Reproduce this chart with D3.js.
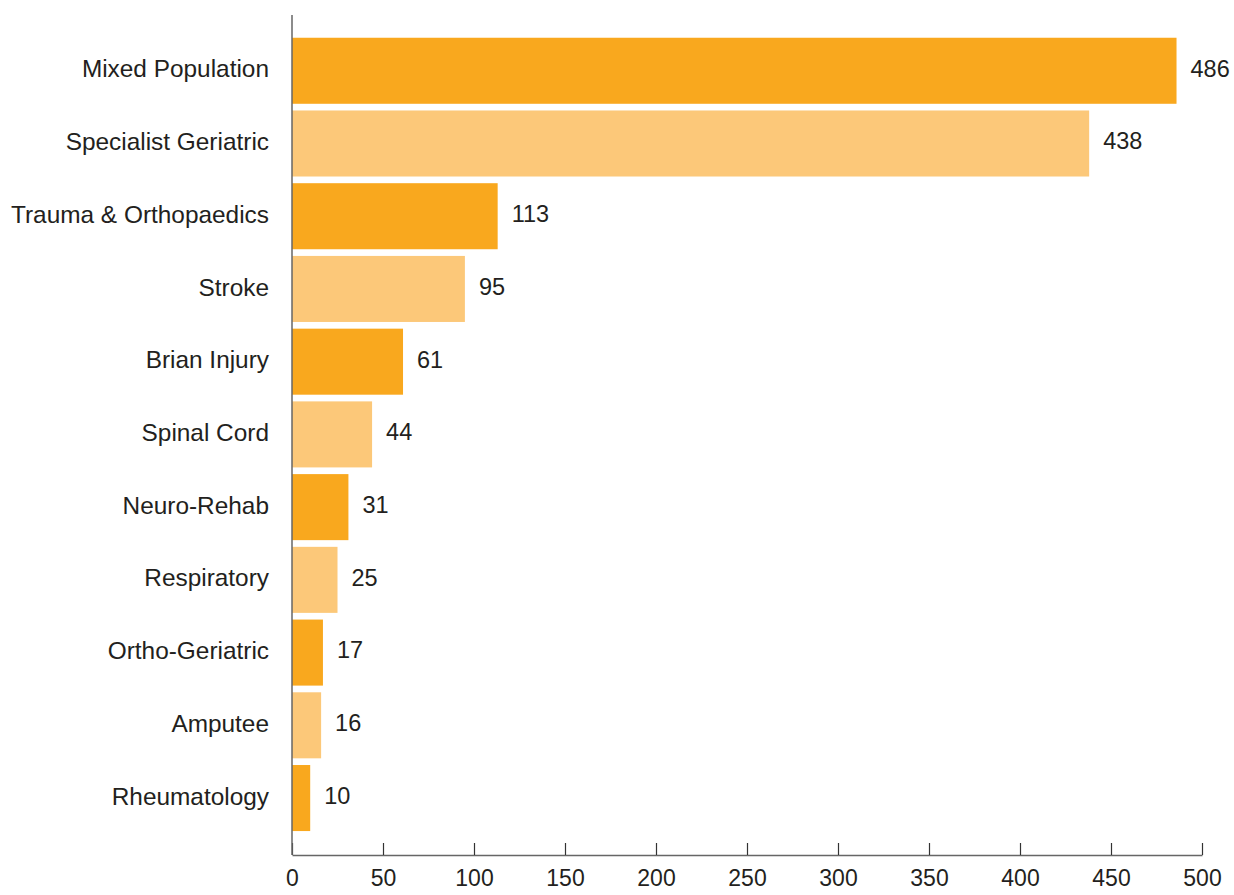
<!DOCTYPE html>
<html>
<head>
<meta charset="utf-8">
<script src="https://cdn.jsdelivr.net/npm/d3@7"></script>
<style>
  body { margin: 0; background: #fff; }
  svg { display: block; font-family: "Liberation Sans", Arial, sans-serif; }
  .lbl { fill: #231f20; }
</style>
</head>
<body>
<svg id="chart"></svg>
<script>
// data
var categories = ["Mixed Population", "Specialist Geriatric", "Trauma & Orthopaedics", "Stroke",
    "Brian Injury", "Spinal Cord", "Neuro-Rehab", "Respiratory", "Ortho-Geriatric", "Amputee", "Rheumatology"];
var counts = [486, 438, 113, 95, 61, 44, 31, 25, 17, 16, 10];
var xTicks = [0, 50, 100, 150, 200, 250, 300, 350, 400, 450, 500];

var width = 1234, height = 895;
var x0 = 292, x1 = 1202, axisY = 855, axisTop = 15;

var svg = d3.select('#chart')
    .attr('width', width)
    .attr('height', height);

var xScale = d3.scaleLinear()
    .domain([0, 500])
    .range([x0, x1]);

var yScale = d3.scaleBand()
    .domain(categories)
    .range([34.4, 834.4])
    .paddingInner(0.092)
    .paddingOuter(0.046);

var dark = '#f9a81e', light = '#fcc879';

// bars
svg.selectAll('rect.bar')
    .data(categories)
    .enter()
    .append('rect')
    .attr('class', 'bar')
    .attr('x', xScale(0))
    .attr('y', function(d) { return yScale(d); })
    .attr('width', function(d, i) { return xScale(counts[i]) - xScale(0); })
    .attr('height', yScale.bandwidth())
    .attr('fill', function(d, i) { return i % 2 === 0 ? dark : light; });

// value labels
svg.selectAll('text.val')
    .data(categories)
    .enter()
    .append('text')
    .attr('class', 'lbl')
    .attr('x', function(d, i) { return xScale(counts[i]) + 14; })
    .attr('y', function(d) { return yScale(d) + yScale.bandwidth() / 2; })
    .attr('dy', '0.25em')
    .style('font-size', '23.5px')
    .text(function(d, i) { return counts[i]; });

// category labels
svg.selectAll('text.cat')
    .data(categories)
    .enter()
    .append('text')
    .attr('class', 'lbl')
    .attr('x', 269)
    .attr('y', function(d) { return yScale(d) + yScale.bandwidth() / 2; })
    .attr('dy', '0.27em')
    .attr('text-anchor', 'end')
    .style('font-size', '24.4px')
    .text(function(d) { return d; });

// x axis, ticks pointing up
var xAxis = d3.axisBottom(xScale)
    .tickValues(xTicks)
    .tickSizeInner(-12)
    .tickSizeOuter(0)
    .tickPadding(15);

var gx = svg.append('g')
    .attr('transform', 'translate(0,' + axisY + ')')
    .call(xAxis);
gx.select('.domain').attr('stroke', '#666').attr('stroke-width', 1.5);
gx.selectAll('.tick line').attr('stroke', '#333').attr('stroke-width', 1.2);
gx.selectAll('.tick text')
    .attr('fill', '#231f20')
    .style('font-size', '23px')
    .style('font-family', '"Liberation Sans", Arial, sans-serif');

// vertical axis line
svg.append('line')
    .attr('x1', xScale(0))
    .attr('x2', xScale(0))
    .attr('y1', axisTop)
    .attr('y2', axisY)
    .attr('stroke', '#666')
    .attr('stroke-width', 1.5);
</script>
</body>
</html>
